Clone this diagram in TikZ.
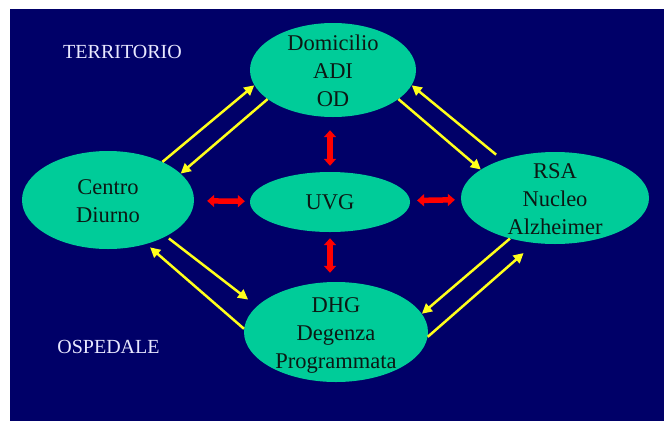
\documentclass[tikz,border=0pt]{standalone}
\usepackage{fontspec}
\setmainfont{Liberation Serif}
\usetikzlibrary{shapes.geometric,arrows.meta}
\definecolor{navybg}{RGB}{0,0,104}
\definecolor{tealfill}{RGB}{0,204,153}
\definecolor{inktext}{RGB}{12,24,20}
\definecolor{yelc}{RGB}{255,255,26}
\definecolor{redc}{RGB}{255,0,0}
\definecolor{labc}{RGB}{232,232,255}
\tikzset{
  blob/.style={ellipse, fill=tealfill, draw=none, inner sep=0pt},
  txt/.style={align=center, text=inktext, inner sep=0pt, font=\fontsize{22.5}{28}\selectfont},
  sidelab/.style={text=labc, inner sep=0pt, font=\fontsize{20}{24}\selectfont},
  yel/.style={draw=yelc, line width=2.5pt, -{Triangle[length=10pt,width=10pt]}},
  redarr/.style={draw=redc, line width=5.5pt, {Triangle[length=7pt,width=12pt]}-{Triangle[length=7pt,width=12pt]}}
}
\begin{document}
\begin{tikzpicture}[x=1pt,y=-1pt]
\useasboundingbox (0,0) rectangle (664,421);
\fill[white] (0,0) rectangle (664,421);
\fill[navybg] (10,9) rectangle (664,421);

\node[blob, minimum width=166pt, minimum height=94pt] (dom) at (333,70) {};
\node[blob, minimum width=172pt, minimum height=98pt] (cen) at (108,200) {};
\node[blob, minimum width=160pt, minimum height=60pt] (uvg) at (330,202) {};
\node[blob, minimum width=188pt, minimum height=92pt] (rsa) at (555,198) {};
\node[blob, minimum width=184pt, minimum height=100pt] (dhg) at (336,332) {};

\node[txt] (domt) at (333,71) {Domicilio\\ADI\\OD};
\node[txt] (cent) at (108,201) {Centro\\Diurno};
\node[txt] (uvgt) at (330,202) {UVG};
\node[txt] (rsat) at (555,199) {RSA\\Nucleo\\Alzheimer};
\node[txt] (dhgt) at (336,335) {DHG\\Degenza\\Programmata};

\node[sidelab] (terr) at (122.5,52) {TERRITORIO};
\node[sidelab] (osp) at (108.5,347) {OSPEDALE};

% yellow arrows
\draw[yel] (cen.35) -- (dom.191);
\draw[yel] (dom.204) -- (cen.20);
\draw[yel, shorten <=8pt] (rsa.144) -- (dom.349);
\draw[yel] (dom.336) -- (rsa.159);
\draw[yel, shorten <=3.5pt, shorten >=11pt] (cen.328.5) -- (dhg.162);
\draw[yel, shorten >=5pt] (dhg.178) -- (cen.311);
\draw[yel] (rsa.222) -- (dhg.12);
\draw[yel, shorten >=15pt] (dhg.357.5) -- (rsa.246);

% red arrows
\draw[redarr, shorten <=13pt, shorten >=6pt] (uvg.north |- dom.south) -- (uvg.north);
\draw[redarr, shorten <=6pt, shorten >=9pt] (uvg.south) -- (uvg.south |- dhg.north);
\draw[redarr, shorten <=13pt, shorten >=5pt] (cen) -- (uvg);
\draw[redarr, shorten <=7pt, shorten >=6pt] (uvg) -- (rsa);
\end{tikzpicture}
\end{document}
